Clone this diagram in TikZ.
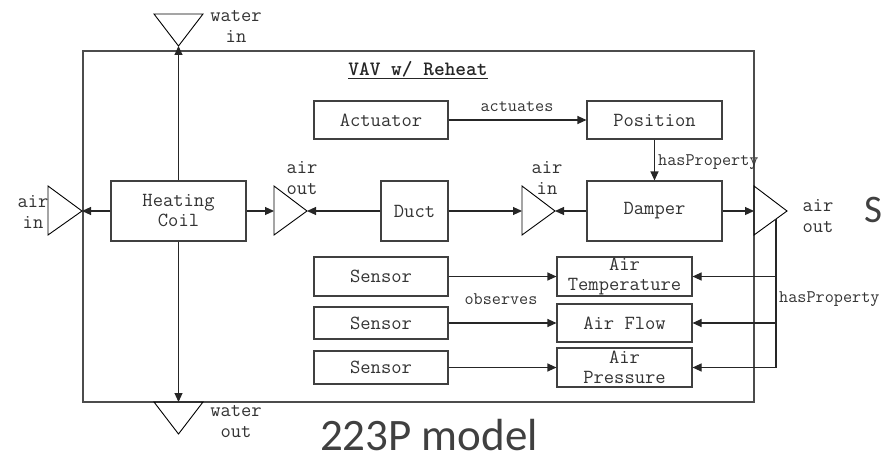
\documentclass[tikz,border=0pt]{standalone}
\usepackage{fontspec}
\newfontfamily\bigsans{Carlito}
\usetikzlibrary{arrows.meta}
\begin{document}
\begin{tikzpicture}[x=1pt,y=-1pt,
  box/.style={draw=black!75, line width=1.1pt, inner sep=0pt, align=center,
    text=black!80, font=\ttfamily\fontsize{20}{20}\selectfont},
  port/.style={draw=black, line width=0.9pt, line join=miter},
  lbl/.style={inner sep=0pt, align=center, text=black!80,
    font=\ttfamily\fontsize{20}{21}\selectfont},
  rel/.style={inner sep=0pt, text=black!80, font=\ttfamily\fontsize{17.7}{18}\selectfont},
  arr/.style={draw=black!85, line width=1.1pt, -{Triangle[length=9pt,width=8pt]}},
  frame/.style={draw=black!70, line width=1.5pt}]
\useasboundingbox (0,0) rectangle (885,460);

% equipment frame and title
\draw[frame] (83,51) rectangle (754,402);
\node[inner sep=0pt, text=black!85, font=\ttfamily\bfseries\fontsize{20.4}{20}\selectfont]
  (title) at (418,70) {\underline{VAV w/ Reheat}};

% connection points
\draw[port] (154,14) -- (203,14) -- (178.5,46) -- cycle;
\draw[port] (154,402) -- (203,402) -- (178.5,434) -- cycle;
\draw[port] (48,186) -- (48,235) -- (82,211) -- cycle;
\draw[port] (274,186) -- (274,235) -- (307,211) -- cycle;
\draw[port] (522,186) -- (522,235) -- (555,211) -- cycle;
\draw[port] (754,186) -- (754,235) -- (787,211) -- cycle;
\coordinate (win) at (178.5,46);
\coordinate (wout) at (178.5,402);
\coordinate (ain) at (82,211);
\coordinate (aoLin) at (274,211);
\coordinate (aoLtip) at (307,211);
\coordinate (aiRin) at (522,211);
\coordinate (aiRtip) at (555,211);
\coordinate (aoRin) at (754,211);

\node[lbl] (lwin) at (236,26) {water\\in};
\node[lbl] (lwout) at (236,422) {water\\out};
\node[lbl] (lain) at (33,212) {air\\in};
\node[lbl] (laoL) at (302,178) {air\\out};
\node[lbl] (laiR) at (547,178) {air\\in};
\node[lbl] (laoR) at (818,216) {air\\out};

% components
\node[box, minimum width=135, minimum height=60] (hc) at (178.5,211) {Heating\\Coil};
\node[box, minimum width=67, minimum height=60] (duct) at (414.5,211) {Duct};
\node[box, minimum width=135, minimum height=60] (damper) at (654.5,211) {Damper};
\node[box, minimum width=134, minimum height=38] (act) at (381,120) {Actuator};
\node[box, minimum width=135, minimum height=38] (pos) at (654.5,120) {Position};
\node[box, minimum width=134, minimum height=39] (s1) at (381,276.5) {Sensor};
\node[box, minimum width=134, minimum height=32] (s2) at (381,323) {Sensor};
\node[box, minimum width=134, minimum height=33] (s3) at (381,367.5) {Sensor};
\node[box, minimum width=135, minimum height=39] (pT) at (624.5,276.5) {Air\\Temperature};
\node[box, minimum width=135, minimum height=38] (pF) at (624.5,323) {Air Flow};
\node[box, minimum width=135, minimum height=39] (pP) at (624.5,367.5) {Air\\Pressure};

% flows
\draw[arr] (hc.north) -- (win);
\draw[arr] (hc.south) -- (wout);
\draw[arr] (hc.west) -- (ain);
\draw[arr] (hc.east) -- (aoLin);
\draw[arr] (duct.west) -- (aoLtip);
\draw[arr] (duct.east) -- (aiRin);
\draw[arr] (damper.west) -- (aiRtip);
\draw[arr] (damper.east) -- (aoRin);

% relations
\draw[arr] (act.east) -- (pos.west);
\node[rel] (lact) at (517,107) {actuates};
\draw[arr] (pos.south) -- (damper.north);
\node[rel, anchor=west] (lhp1) at (658,162) {hasProperty};
\draw[arr] (s1.east) -- (s1.east -| pT.west);
\draw[arr] (s2.east) -- (s2.east -| pF.west);
\draw[arr] (s3.east) -- (s3.east -| pP.west);
\node[rel] (lobs) at (501,299) {observes};

\coordinate (bustop) at (776,219);
\coordinate (busbot) at (776,367.5);
\draw[draw=black!85, line width=1.1pt] (bustop) -- (busbot);
\draw[arr] (776,276.5) -- (pT.east);
\draw[arr] (776,323) -- (pF.east);
\draw[arr] (busbot) -- (pP.east);
\node[rel, anchor=west] (lhp2) at (779,299) {hasProperty};

% captions
\node[inner sep=0pt, anchor=base west, text=black!75, font=\bigsans\fontsize{39}{44}\selectfont]
  (capS) at (864,222) {S};
\node[inner sep=0pt, anchor=base, text=black!75, font=\bigsans\fontsize{45}{48}\selectfont]
  (cap) at (429,450) {223P model};
\end{tikzpicture}
\end{document}
